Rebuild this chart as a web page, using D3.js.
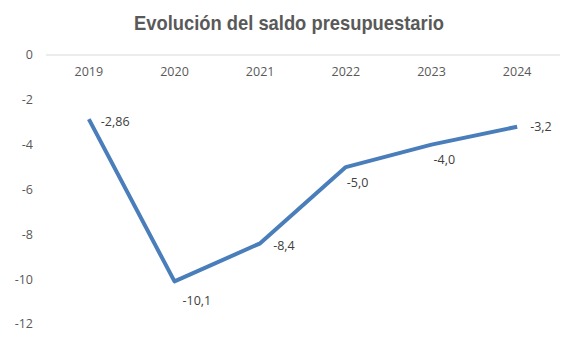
<!DOCTYPE html>
<html><head><meta charset="utf-8">
<script src="https://cdn.jsdelivr.net/npm/d3@7"></script>
<style>body{margin:0;background:#fff}svg{display:block}</style>
</head><body>
<svg id="c" width="578" height="356"></svg>
<script>
const years = ["2019","2020","2021","2022","2023","2024"];
const saldo = [-2.86,-10.1,-8.4,-5.0,-4.0,-3.2];
const labels = ["-2,86","-10,1","-8,4","-5,0","-4,0","-3,2"];
const yTicks = [0,-2,-4,-6,-8,-10,-12];

const svg = d3.select("#c");
const x = d3.scaleBand().domain(years).range([46,560]);
const y = d3.scaleLinear().domain([0,-12]).range([55,324]);
const font = "'Open Sans', 'Noto Sans', sans-serif";

// label offsets (pixels) relative to each point
const labelOffsets = [[12,3],[8,19],[13,2],[1,16],[2,15],[13,0]];

svg.append("text").attr("x",134).attr("y",30)
  .attr("font-family","'Liberation Sans',Arial,sans-serif")
  .attr("font-weight","bold").attr("font-size",21).attr("fill","#595959")
  .attr("textLength",310).attr("lengthAdjust","spacingAndGlyphs")
  .text("Evolución del saldo presupuestario");

// y axis labels
svg.append("g").selectAll("text").data(yTicks).join("text")
  .attr("x",33).attr("y",d=>y(d)).attr("dy","0.35em").attr("text-anchor","end")
  .attr("font-family",font).attr("font-size",12.5).attr("fill","#595959")
  .text(d=>d);

// zero axis line
svg.append("line").attr("x1",x.range()[0]).attr("x2",x.range()[1])
  .attr("y1",y(0)).attr("y2",y(0)).attr("stroke","#d9d9d9").attr("stroke-width",1);

// x labels
svg.append("g").selectAll("text").data(years).join("text")
  .attr("x",d=>x(d)+x.bandwidth()/2).attr("y",y(0)+17).attr("dy","0.35em")
  .attr("text-anchor","middle").attr("font-family",font).attr("font-size",12.5).attr("fill","#595959")
  .text(d=>d);

const cx = i => x(years[i])+x.bandwidth()/2;
const line = d3.line().x((d,i)=>cx(i)).y(d=>y(d));
svg.append("path").datum(saldo).attr("d",line).attr("fill","none")
  .attr("stroke","#4a7ebb").attr("stroke-width",4).attr("stroke-linejoin","round");

svg.append("g").selectAll("text").data(saldo).join("text")
  .attr("x",(d,i)=>cx(i)+labelOffsets[i][0])
  .attr("y",(d,i)=>y(d)+labelOffsets[i][1])
  .attr("dy","0.35em")
  .attr("font-family",font).attr("font-size",12.5).attr("fill","#404040")
  .text((d,i)=>labels[i]);
</script>
</body></html>
